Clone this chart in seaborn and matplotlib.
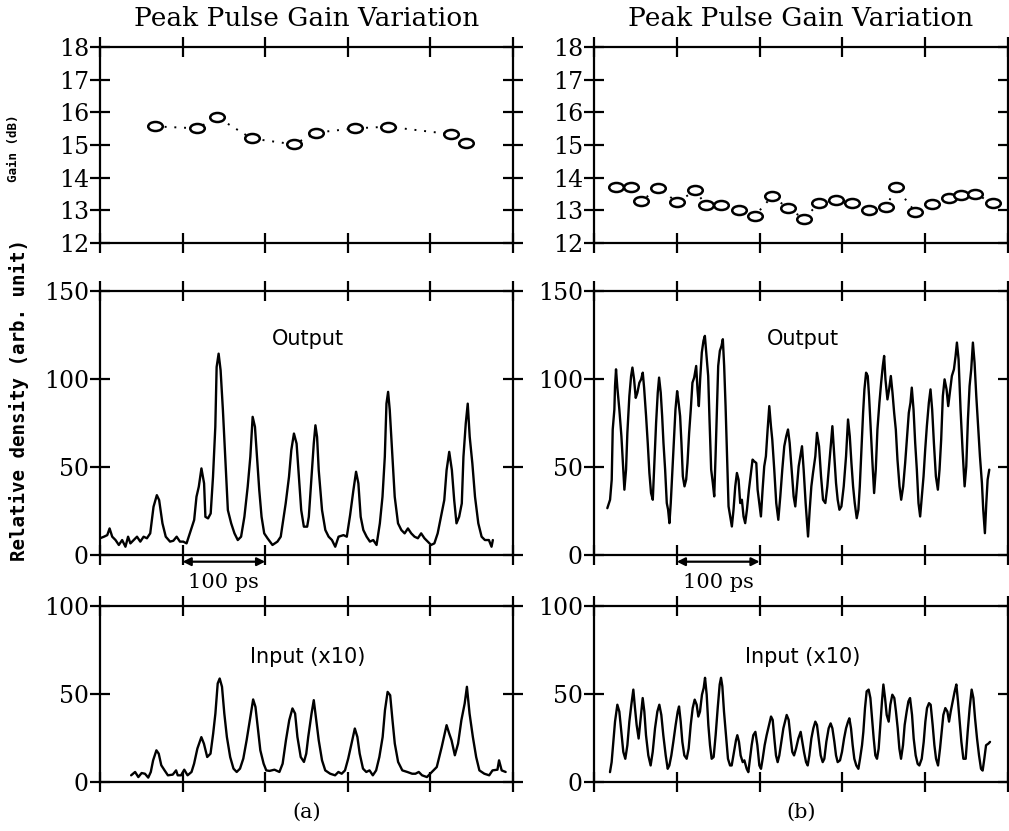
import matplotlib
matplotlib.use("Agg")
import matplotlib.pyplot as plt
from matplotlib.path import Path
from matplotlib.transforms import Affine2D
import seaborn as sns

# ── Data (time in ps) ────────────────────────────────────────────────────────
GAIN_A_T = [66.5, 117.7, 141.9, 183.5, 234.7, 262.1, 308.5, 348.8, 425.4, 443.5]
GAIN_A_DB = [15.57, 15.51, 15.85, 15.20, 15.02, 15.38, 15.51, 15.56, 15.33, 15.05]

GAIN_B_T = [26.5, 44.9, 57.1, 77.6, 100.8, 122.4, 134.7, 153.1, 175.5, 193.9,
            215.1, 234.7, 253.1, 272.2, 291.8, 311.4, 331.8, 353.1, 364.5, 387.8,
            408.2, 428.6, 442.9, 460.0, 481.6]
GAIN_B_DB = [13.71, 13.71, 13.29, 13.67, 13.25, 13.61, 13.17, 13.17, 13.01, 12.82,
             13.43, 13.06, 12.75, 13.22, 13.31, 13.22, 13.01, 13.11, 13.71, 12.96,
             13.20, 13.38, 13.48, 13.51, 13.22]

OUT_A_T = [0.0, 4.8, 8.8, 11.6, 14.8, 18.8, 22.8, 26.8, 30.8, 34.0, 36.8, 40.8, 44.8,
           48.8, 52.8, 56.8, 60.8, 64.8, 68.8, 71.6, 75.6, 79.6, 84.8, 88.8, 92.8,
           96.8, 100.8, 104.8, 108.8, 114.0, 116.8, 119.6, 122.8, 126.0, 127.6, 130.8,
           134.0, 136.8, 139.6, 141.2, 143.6, 146.0, 148.8, 151.6, 154.8, 158.8, 162.8,
           166.8, 170.8, 174.8, 178.8, 182.0, 184.8, 187.6, 190.0, 192.8, 195.6, 198.8,
           202.8, 208.8, 214.8, 218.8, 224.8, 228.8, 231.6, 234.8, 238.0, 240.8, 243.6,
           246.8, 250.8, 252.8, 255.6, 258.8, 260.8, 262.8, 264.8, 268.8, 272.8, 276.8,
           280.8, 284.8, 288.8, 294.8, 298.8, 302.8, 306.8, 310.0, 312.8, 315.6, 318.8,
           322.8, 326.8, 330.8, 334.8, 338.8, 342.0, 344.8, 346.8, 348.8, 350.8, 354.0,
           356.8, 360.8, 364.8, 368.8, 372.8, 376.8, 380.8, 384.8, 388.8, 392.8, 396.8,
           400.8, 404.8, 408.8, 412.8, 416.8, 419.6, 422.8, 426.0, 428.8, 431.6, 434.8,
           438.0, 440.0, 442.8, 445.2, 447.6, 450.8, 454.0, 458.0, 462.0, 466.0, 470.8,
           474.0, 475.6]
OUT_A = [9.5, 10.4, 11.3, 15.1, 10.4, 8.5, 5.7, 8.5, 4.7, 10.4, 6.6, 8.5, 10.4,
         7.6, 10.4, 9.5, 12.3, 27.4, 34.0, 31.2, 18.0, 10.4, 7.6, 8.1, 10.4,
         7.6, 7.6, 6.6, 12.3, 19.9, 33.1, 38.8, 49.2, 40.7, 21.7, 20.8,
         23.6, 44.4, 72.8, 106.8, 114.4, 105.0, 82.3, 55.8, 25.5, 18.0, 12.3,
         8.5, 10.4, 21.7, 38.8, 55.8, 78.5, 72.8, 55.8, 36.9, 21.7, 12.3,
         9.5, 5.7, 7.6, 10.4, 29.3, 44.4, 59.6, 69.0, 63.3, 44.4, 25.5,
         16.1, 16.1, 21.7, 40.7, 63.3, 73.7, 67.1, 48.2, 25.5, 14.2, 10.4,
         8.5, 4.7, 10.4, 11.3, 10.4, 22.7, 36.9, 47.3, 40.7, 21.7, 14.2,
         10.4, 7.6, 8.5, 5.7, 18.0, 33.1, 55.8, 86.0, 92.7, 82.3, 55.8,
         33.1, 18.0, 14.2, 12.3, 15.1, 12.3, 10.4, 9.5, 12.3, 9.5, 7.6,
         5.7, 6.6, 12.3, 21.7, 31.2, 48.2, 58.6, 48.2, 31.2, 18.0, 21.7,
         29.3, 55.8, 74.7, 86.0, 67.1, 52.0, 33.1, 18.0, 10.4, 8.5, 8.5,
         4.7, 8.5]

IN_A_T = [37.7, 42.5, 46.4, 50.4, 54.4, 58.4, 61.5, 64.3, 68.3, 71.1, 74.2, 78.2,
          82.2, 88.1, 92.1, 94.1, 98.1, 102.0, 106.0, 110.8, 113.9, 117.9, 122.7,
          125.8, 129.8, 133.8, 137.0, 139.7, 142.5, 144.9, 147.7, 150.5, 153.6, 157.6,
          161.6, 165.5, 169.5, 173.5, 177.5, 181.4, 185.4, 188.2, 191.4, 194.1, 198.1,
          201.3, 205.2, 211.2, 217.2, 221.1, 225.1, 229.1, 233.0, 236.2, 239.0, 243.0,
          246.9, 249.7, 252.1, 256.1, 258.8, 260.8, 264.8, 268.8, 272.7, 278.7, 284.6,
          288.6, 292.6, 296.6, 300.5, 304.5, 308.5, 311.6, 314.4, 318.4, 322.4, 326.3,
          330.3, 334.3, 338.2, 342.2, 345.0, 348.2, 351.3, 354.1, 356.9, 360.9, 366.0,
          372.0, 377.9, 381.9, 385.9, 389.9, 395.8, 401.8, 407.7, 413.7, 419.6, 422.8,
          425.6, 429.6, 433.5, 437.5, 441.5, 444.2, 447.4, 451.4, 455.4, 459.3, 465.3,
          471.2, 475.2, 481.2, 483.1, 486.3, 491.1]
IN_A = [3.8, 5.7, 2.8, 5.1, 4.7, 2.5, 5.7, 12.3, 18.0, 16.1, 9.5, 6.6,
        3.8, 4.2, 6.6, 3.8, 3.8, 7.0, 3.8, 5.7, 10.4, 19.0, 25.5,
        21.8, 14.2, 16.1, 27.5, 38.9, 56.0, 58.8, 54.1, 38.9, 25.6, 14.2,
        7.6, 5.7, 7.6, 13.3, 23.7, 35.1, 46.9, 42.7, 29.4, 18.0, 10.4,
        6.6, 6.3, 7.0, 5.7, 10.4, 23.7, 35.1, 41.8, 38.9, 25.6, 14.2,
        11.4, 16.1, 25.6, 38.9, 46.5, 38.9, 23.7, 12.3, 6.6, 4.7, 3.8,
        5.7, 4.7, 6.6, 13.3, 21.8, 30.4, 25.6, 16.1, 7.6, 5.7, 6.6,
        3.8, 6.6, 14.2, 25.6, 40.8, 51.2, 49.3, 35.1, 21.8, 11.4, 6.6,
        5.7, 4.7, 4.7, 5.7, 3.8, 2.8, 5.7, 8.5, 19.9, 32.3, 27.5,
        23.7, 15.2, 21.8, 35.1, 44.6, 54.1, 38.9, 25.6, 14.2, 6.6, 4.7,
        3.8, 6.6, 7.0, 12.3, 6.6, 5.7]

OUT_B_T = [16.1, 19.4, 21.4, 22.6, 24.6, 25.4, 26.6, 28.2, 30.6, 33.1, 34.7, 36.7, 38.7,
           40.3, 42.7, 44.8, 46.4, 48.4, 50.4, 52.4, 54.8, 56.9, 58.9, 60.5, 62.9, 64.9,
           66.9, 68.9, 71.0, 72.6, 75.0, 77.0, 78.6, 80.6, 82.3, 83.9, 85.9, 87.9, 89.5,
           91.1, 92.7, 95.2, 96.8, 98.4, 100.4, 102.0, 104.0, 105.6, 107.3, 109.3, 111.3,
           112.9, 114.9, 116.9, 118.9, 121.0, 123.4, 125.0, 126.6, 128.2, 130.2, 132.2,
           133.9, 135.9, 137.9, 139.5, 141.5, 143.5, 145.2, 146.8, 148.4, 150.0, 152.0,
           154.0, 155.6, 157.2, 158.9, 160.5, 162.5, 164.5, 166.5, 168.5, 170.6, 172.6,
           174.6, 176.6, 178.6, 180.6, 182.6, 184.7, 187.1, 189.5, 191.5, 193.5, 196.0,
           197.6, 199.6, 201.6, 203.6, 205.6, 207.6, 209.7, 211.7, 213.7, 215.3, 217.7,
           220.1, 222.6, 225.0, 227.4, 229.8, 232.2, 234.3, 236.3, 238.7, 241.1, 243.1,
           245.1, 247.2, 249.2, 251.2, 253.2, 255.6, 258.5, 260.5, 262.5, 264.5, 267.3,
           269.3, 271.8, 274.2, 276.6, 279.4, 281.8, 283.9, 285.9, 287.9, 290.3, 292.3,
           294.3, 296.4, 298.8, 301.6, 304.4, 306.8, 308.9, 310.9, 312.9, 314.9, 317.3,
           319.3, 321.0, 323.0, 325.0, 326.6, 328.6, 330.6, 332.2, 333.8, 336.3, 338.3,
           340.3, 342.3, 344.7, 346.8, 348.8, 350.4, 352.0, 354.4, 356.4, 358.5, 360.5,
           362.5, 364.5, 366.5, 369.0, 371.0, 373.4, 375.8, 378.2, 380.2, 382.2, 383.8,
           385.9, 387.9, 389.9, 391.9, 393.9, 395.9, 398.0, 400.0, 402.0, 404.4, 406.4,
           408.4, 410.5, 412.9, 415.3, 417.3, 419.3, 421.3, 423.4, 425.8, 427.8, 429.8,
           432.2, 434.7, 436.7, 438.3, 440.3, 442.7, 445.1, 447.6, 449.6, 451.6, 453.6,
           455.6, 457.6, 459.6, 461.7, 463.7, 466.1, 468.5, 470.1, 472.1, 473.8, 475.4,
           477.4]
OUT_B = [26.6, 31.4, 42.8, 71.3, 82.7, 96.0, 105.5, 95.1, 82.7, 67.5, 54.2, 37.1, 48.5,
         69.4, 90.3, 101.7, 106.5, 99.8, 89.3, 92.2, 97.9, 99.8, 103.6, 95.1, 78.9, 63.7,
         46.6, 35.2, 31.4, 48.5, 75.1, 92.2, 100.8, 92.2, 78.9, 63.7, 48.5, 29.5, 25.7,
         18.1, 29.5, 52.3, 67.5, 82.7, 93.1, 87.4, 78.9, 63.7, 44.7, 39.0, 42.8,
         52.3, 69.4, 82.7, 97.9, 100.8, 107.4, 94.1, 84.6, 99.8, 115.0, 121.7,
         124.5, 113.1, 101.7, 77.0, 48.5, 40.9, 33.3, 56.1, 82.7, 107.4, 116.0,
         118.8, 122.6, 107.4, 84.6, 59.9, 27.6, 21.9, 16.2, 25.7, 39.0, 46.6,
         42.8, 29.5, 31.4, 21.9, 18.1, 25.7, 37.1, 46.6, 54.2, 53.2, 52.3,
         37.1, 29.5, 21.9, 37.1, 50.4, 56.1, 71.3, 84.6, 73.2, 65.6, 48.5,
         29.5, 20.0, 33.3, 48.5, 61.8, 67.5, 71.3, 63.7, 48.5, 33.3, 27.6,
         39.0, 50.4, 56.1, 61.8, 48.5, 29.5, 10.5, 25.7, 39.0, 46.6, 56.1,
         69.4, 61.8, 44.7, 31.4, 29.5, 39.0, 50.4, 61.8, 73.2, 56.1, 40.9,
         31.4, 25.7, 27.6, 39.0, 56.1, 77.0, 67.5, 52.3, 39.0, 29.5, 20.9,
         25.7, 39.0, 59.9, 80.8, 94.1, 103.6, 101.7, 90.3, 75.1, 52.3, 35.2,
         48.5, 71.3, 86.5, 97.9, 107.4, 113.1, 99.8, 88.4, 94.1, 101.7, 92.2,
         80.8, 71.3, 54.2, 39.0, 31.4, 39.0, 52.3, 67.5, 80.8, 86.5, 95.1,
         82.7, 63.7, 48.5, 29.5, 21.9, 33.3, 44.7, 59.9, 73.2, 86.5, 94.1,
         82.7, 63.7, 44.7, 37.1, 48.5, 65.6, 90.3, 99.8, 94.1, 84.6, 92.2,
         101.7, 105.5, 113.1, 120.7, 111.2, 82.7, 59.9, 39.0, 50.4, 77.0, 96.0,
         105.5, 120.7, 109.3, 90.3, 75.1, 56.1, 40.9, 25.7, 12.4, 29.5, 42.8,
         48.5]

IN_B_T = [19.3, 21.3, 23.4, 25.4, 28.2, 30.6, 33.4, 35.4, 37.8, 40.3, 42.7, 45.1, 47.5,
          49.5, 51.5, 53.9, 56.4, 58.8, 60.8, 62.8, 65.6, 68.4, 70.9, 73.7, 76.5, 78.9,
          81.3, 83.7, 86.6, 89.0, 91.0, 93.4, 95.8, 98.6, 101.1, 102.7, 104.7, 106.7,
          109.1, 111.9, 114.3, 116.8, 119.2, 121.6, 124.0, 126.0, 128.0, 130.4, 132.5,
          134.1, 136.1, 138.1, 140.1, 142.1, 144.5, 146.9, 149.4, 151.8, 153.4, 155.0,
          157.0, 159.4, 161.8, 164.3, 166.3, 169.1, 171.5, 173.1, 175.1, 177.1, 179.6,
          181.6, 184.4, 186.4, 188.4, 190.4, 192.4, 194.9, 197.3, 199.7, 201.7, 203.7,
          206.1, 208.5, 211.4, 213.8, 215.8, 217.8, 219.8, 221.8, 223.8, 226.3, 228.7,
          230.7, 232.7, 235.1, 237.5, 239.5, 241.6, 244.0, 246.8, 249.6, 251.6, 253.6,
          256.1, 258.1, 260.1, 262.5, 264.9, 267.3, 269.3, 271.8, 273.8, 276.2, 278.2,
          280.6, 283.4, 285.8, 287.9, 290.3, 292.3, 294.3, 297.1, 299.5, 302.0, 304.4,
          306.8, 308.4, 310.4, 312.4, 314.4, 316.8, 319.3, 321.3, 323.7, 325.3, 327.3,
          329.3, 331.7, 333.8, 335.8, 337.8, 339.8, 341.8, 343.8, 345.8, 347.8, 349.5,
          351.5, 353.5, 355.9, 357.9, 360.3, 362.7, 364.7, 366.8, 368.8, 370.8, 373.2,
          375.2, 377.6, 379.7, 381.7, 384.1, 386.1, 388.5, 390.9, 392.9, 395.8, 398.2,
          400.2, 402.2, 404.6, 406.6, 409.0, 411.1, 413.1, 415.5, 417.9, 420.3, 421.9,
          424.3, 426.8, 428.8, 430.8, 433.2, 435.6, 437.6, 439.6, 441.6, 443.7, 446.1,
          448.9, 451.3, 453.7, 456.1, 458.2, 460.2, 462.6, 465.0, 467.4, 469.4, 471.4,
          473.5, 476.3, 478.3]
IN_B = [5.6, 11.3, 22.8, 34.3, 43.9, 40.0, 26.6, 17.1, 13.2, 20.9, 34.3, 43.9, 52.5,
        42.0, 32.4, 24.7, 36.2, 47.7, 40.0, 26.6, 15.1, 9.4, 17.1, 30.5, 40.0, 43.9,
        38.1, 26.6, 15.1, 7.5, 9.4, 15.1, 22.8, 32.4, 40.0, 42.9, 34.3, 22.8,
        15.1, 13.2, 19.0, 32.4, 42.0, 46.8, 43.9, 37.2, 40.0, 49.6, 53.5,
        59.2, 49.6, 32.4, 20.9, 13.2, 14.2, 26.6, 42.0, 55.4, 59.2, 54.4,
        40.0, 26.6, 13.2, 9.4, 9.4, 17.1, 23.8, 26.6, 22.8, 15.1, 11.3,
        12.3, 7.5, 5.6, 13.2, 20.9, 26.6, 28.5, 20.9, 9.4, 7.5, 13.2,
        20.9, 26.6, 32.4, 37.2, 35.3, 24.7, 15.1, 11.3, 15.1, 22.8, 30.5,
        34.3, 38.1, 35.3, 24.7, 17.1, 15.1, 19.0, 24.7, 28.5, 22.8, 17.1,
        11.3, 9.4, 15.1, 24.7, 30.5, 34.3, 32.4, 22.8, 15.1, 11.3, 13.2,
        22.8, 30.5, 33.3, 30.5, 22.8, 15.1, 11.3, 12.3, 17.1, 24.7, 30.5,
        34.3, 36.2, 30.5, 20.9, 13.2, 9.4, 7.5, 13.2, 20.9, 28.5, 42.0,
        51.5, 52.5, 47.7, 36.2, 24.7, 15.1, 13.2, 19.0, 32.4, 45.8, 55.4,
        47.7, 38.1, 34.3, 43.9, 49.6, 47.7, 40.0, 30.5, 19.0, 13.2, 20.9,
        32.4, 40.0, 45.8, 47.7, 38.1, 24.7, 15.1, 10.3, 9.4, 13.2, 22.8,
        34.3, 42.0, 44.8, 43.9, 32.4, 20.9, 13.2, 9.4, 19.0, 30.5, 38.1,
        42.0, 40.0, 34.3, 40.0, 45.8, 51.5, 55.4, 45.8, 34.3, 22.8, 13.2,
        13.2, 28.5, 42.0, 52.5, 47.7, 36.2, 24.7, 15.1, 7.5, 6.5, 13.2,
        20.9, 21.8, 22.8]

TIME_TICKS = [0, 100, 200, 300, 400, 500]
GAIN_TICKS = [12, 13, 14, 15, 16, 17, 18]
OUT_TICKS = [0, 50, 100, 150]
IN_TICKS = [0, 50, 100]

# ── Style ────────────────────────────────────────────────────────────────────
sns.set_theme(style="ticks")
plt.rcParams.update({
    "font.family": ["DejaVu Serif"],
    "text.color": "black",
    "axes.labelcolor": "black",
    "axes.linewidth": 1.5,
    "axes.edgecolor": "black",
    "xtick.color": "black",
    "ytick.color": "black",
})
SERIF = "DejaVu Serif"
SANS = "DejaVu Sans"
MONO = "DejaVu Sans Mono"

ELLIPSE = Path.unit_circle().transformed(Affine2D().scale(1.0, 0.62))

W, H = 1009, 831
fig = plt.figure(figsize=(W / 100, H / 100), dpi=100, facecolor="white")


def px_axes(x0, x1, y0, y1):
    """Axes from pixel box (left, right, top, bottom)."""
    return fig.add_axes([x0 / W, 1 - y1 / H, (x1 - x0) / W, (y1 - y0) / H])


def style_axes(ax, yticks, ylim):
    ax.set_xlim(0, 500)
    ax.set_ylim(*ylim)
    ax.set_xticks(TIME_TICKS)
    ax.set_yticks(yticks)
    ax.set_xticklabels([])
    ax.set_yticklabels([str(t) for t in yticks], fontsize=17, family=SERIF,
                       color="black")
    ax.tick_params(direction="inout", length=14, width=1.6, top=True, right=True,
                   bottom=True, left=True, pad=1)
    for s in ax.spines.values():
        s.set_visible(True)
        s.set_linewidth(1.6)
    ax.set_xlabel("")
    ax.set_ylabel("")
    ax.set_facecolor("white")


def gain_panel(ax, t, g):
    sns.lineplot(x=t, y=g, ax=ax, color="black", lw=1.4, linestyle=(0, (1, 4)),
                 sort=False, estimator=None)
    sns.scatterplot(x=t, y=g, ax=ax, marker=ELLIPSE, s=110, facecolor="white",
                    edgecolor="black", linewidth=1.8, zorder=3)
    style_axes(ax, GAIN_TICKS, (12, 18))


def trace(ax, t, v):
    sns.lineplot(x=t, y=v, ax=ax, color="black", lw=1.7, sort=False, estimator=None)


cols = [(100, 513), (594, 1008)]
gains = [(GAIN_A_T, GAIN_A_DB), (GAIN_B_T, GAIN_B_DB)]
outs = [(OUT_A_T, OUT_A), (OUT_B_T, OUT_B)]
ins = [(IN_A_T, IN_A), (IN_B_T, IN_B)]

for (x0, x1), (gt, gd), (ot, ov), (it, iv), tag in zip(cols, gains, outs, ins, ["(a)", "(b)"]):
    ax_g = px_axes(x0, x1, 47, 243)
    gain_panel(ax_g, gt, gd)

    ax_o = px_axes(x0, x1, 291, 555)
    trace(ax_o, ot, ov)
    style_axes(ax_o, OUT_TICKS, (0, 150))
    ax_o.text(252, 123, "Output", fontsize=15, family=SANS, ha="center", va="center")
    ax_o.annotate("", xy=(100, -3.8), xytext=(200, -3.8), annotation_clip=False,
                  arrowprops=dict(arrowstyle="<|-|>", lw=1.6, color="black",
                                  shrinkA=0, shrinkB=0, mutation_scale=12))
    ax_o.text(150, -15.5, "100 ps", fontsize=15, family=SERIF, ha="center",
              va="center", clip_on=False)

    ax_i = px_axes(x0, x1, 606, 782)
    trace(ax_i, it, iv)
    style_axes(ax_i, IN_TICKS, (0, 100))
    ax_i.text(252, 71, "Input (x10)", fontsize=15, family=SANS, ha="center", va="center")

    cx = (x0 + x1) / 2 / W
    fig.text(cx, 1 - 18 / H, "Peak Pulse Gain Variation", fontsize=19, family=SERIF,
             ha="center", va="center")
    fig.text(cx, 1 - 812 / H, tag, fontsize=15, family=SERIF, ha="center", va="center")

fig.text(14 / W, 1 - 148 / H, "Gain (dB)", rotation=90, fontsize=9, family=MONO,
         fontweight="bold", ha="center", va="center")
fig.text(19 / W, 1 - 400 / H, "Relative density (arb. unit)", rotation=90, fontsize=13.8,
         family=MONO, fontweight="bold", ha="center", va="center")

fig.savefig("out.png", dpi=100, facecolor="white")
